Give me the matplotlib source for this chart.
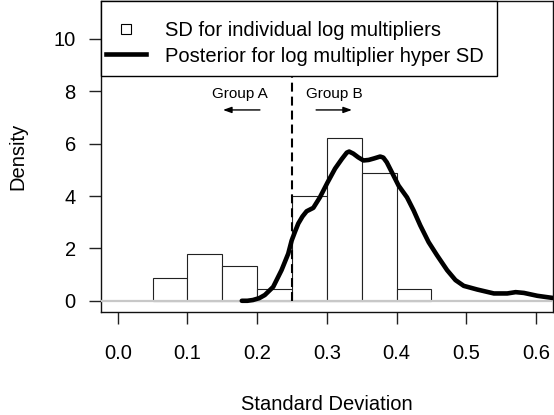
import numpy as np
import matplotlib
matplotlib.use('Agg')
import matplotlib.pyplot as plt
from matplotlib.patches import Rectangle

plt.rcParams['font.family'] = ['Liberation Sans', 'DejaVu Sans']

# histogram of individual SDs (counts per 0.05 bin)
bin_edges = [0.05, 0.10, 0.15, 0.20, 0.25, 0.30, 0.35, 0.40, 0.45]
bin_counts = [2, 4, 3, 1, 9, 14, 11, 1]

# posterior density of the hyper SD
post_x = [0.178, 0.186, 0.194, 0.203, 0.211, 0.223, 0.235, 0.2446, 0.2495, 0.2545,
          0.259, 0.265, 0.271, 0.2806, 0.290, 0.301, 0.3118, 0.3216, 0.3286, 0.332,
          0.338, 0.345, 0.3525, 0.360, 0.368, 0.3765, 0.381, 0.386, 0.3957, 0.4029,
          0.415, 0.4245, 0.434, 0.446, 0.458, 0.4725, 0.4845, 0.4964, 0.5157, 0.5396,
          0.5588, 0.5708, 0.5827, 0.602, 0.6236, 0.632]
post_y = [0.00, 0.00, 0.03, 0.10, 0.22, 0.53, 1.17, 1.80, 2.30, 2.65,
          2.95, 3.22, 3.42, 3.55, 3.95, 4.52, 5.05, 5.42, 5.66, 5.70,
          5.62, 5.48, 5.36, 5.38, 5.44, 5.51, 5.47, 5.29, 4.78, 4.40,
          3.95, 3.45, 2.88, 2.24, 1.74, 1.17, 0.79, 0.57, 0.43, 0.28,
          0.28, 0.33, 0.30, 0.19, 0.11, 0.09]

cut_sd = 0.25
xticks = [0.0, 0.1, 0.2, 0.3, 0.4, 0.5, 0.6]
yticks = [0, 2, 4, 6, 8, 10]
legend_labels = ['SD for individual log multipliers',
                 'Posterior for log multiplier hyper SD']

edges = np.array(bin_edges)
counts = np.array(bin_counts)
widths = np.diff(edges)
dens = counts / (counts.sum() * widths)

fig = plt.figure(figsize=(5.54, 4.15), dpi=100)
ax = fig.add_axes([101 / 554, 1 - 312.3 / 415, 451.7 / 554, 311 / 415])

ax.bar(edges[:-1], dens, width=widths, align='edge', facecolor='white',
       edgecolor='#222222', linewidth=0.8, zorder=2)
ax.axhline(0, color='#c8c8c8', linewidth=1.6, zorder=3)
ax.plot([cut_sd, cut_sd], [0, 11.5], color='black', linewidth=1.5,
        linestyle=(0, (4.3, 2.4)), zorder=4)
ax.plot(post_x, post_y, color='black', linewidth=3.3, solid_capstyle='round',
        solid_joinstyle='round', zorder=5)

ax.text(0.175, 7.73, 'Group A', fontsize=11, ha='center', va='baseline')
ax.text(0.311, 7.73, 'Group B', fontsize=11, ha='center', va='baseline')
arrow_kw = dict(arrowstyle='-|>,head_length=0.5,head_width=0.18', color='black',
                linewidth=1.0, shrinkA=0, shrinkB=0)
ax.annotate('', xy=(0.151, 7.29), xytext=(0.204, 7.29), arrowprops=arrow_kw)
ax.annotate('', xy=(0.336, 7.29), xytext=(0.2846, 7.29), arrowprops=arrow_kw)

ax.set_xlim(-0.024, 0.624)
ax.set_ylim(-0.44, 11.44)
ax.set_xticks(xticks)
ax.set_xticklabels(['%.1f' % t for t in xticks])
ax.set_yticks(yticks)
ax.tick_params(axis='both', direction='out', length=8.6, width=1.0,
               labelsize=14.5, color='#222222')
ax.tick_params(axis='x', pad=14)
ax.tick_params(axis='y', pad=9.5)
for s in ax.spines.values():
    s.set_linewidth(1.0)
    s.set_color('#111111')

ax.set_xlabel('Standard Deviation', fontsize=14.5, va='center')
ax.xaxis.set_label_coords(0.5, -0.298)
ax.set_ylabel('Density', fontsize=14.5, va='center')
ax.yaxis.set_label_coords(-0.184, 0.5)

# legend box in the top-left corner, drawn by hand (R-style spacing)
tr = ax.transAxes
ax.add_patch(Rectangle((0, 0.7588), 0.8767, 0.2412, transform=tr, facecolor='white',
                       edgecolor='black', linewidth=1.0, zorder=10, clip_on=False))
ax.plot([0.0553], [0.910], transform=tr, marker='s', markersize=7,
        markerfacecolor='white', markeredgecolor='black', markeredgewidth=0.8,
        linestyle='none', zorder=11, clip_on=False)
ax.plot([0.0111, 0.0990], [0.8305, 0.8305], transform=tr, color='black',
        linewidth=3.3, zorder=11, clip_on=False)
ax.text(0.1417, 0.8884, legend_labels[0], transform=tr, fontsize=14.5,
        ha='left', va='baseline', zorder=12)
ax.text(0.1417, 0.8058, legend_labels[1], transform=tr, fontsize=14.5,
        ha='left', va='baseline', zorder=12)

fig.savefig('out.png', dpi=100)
